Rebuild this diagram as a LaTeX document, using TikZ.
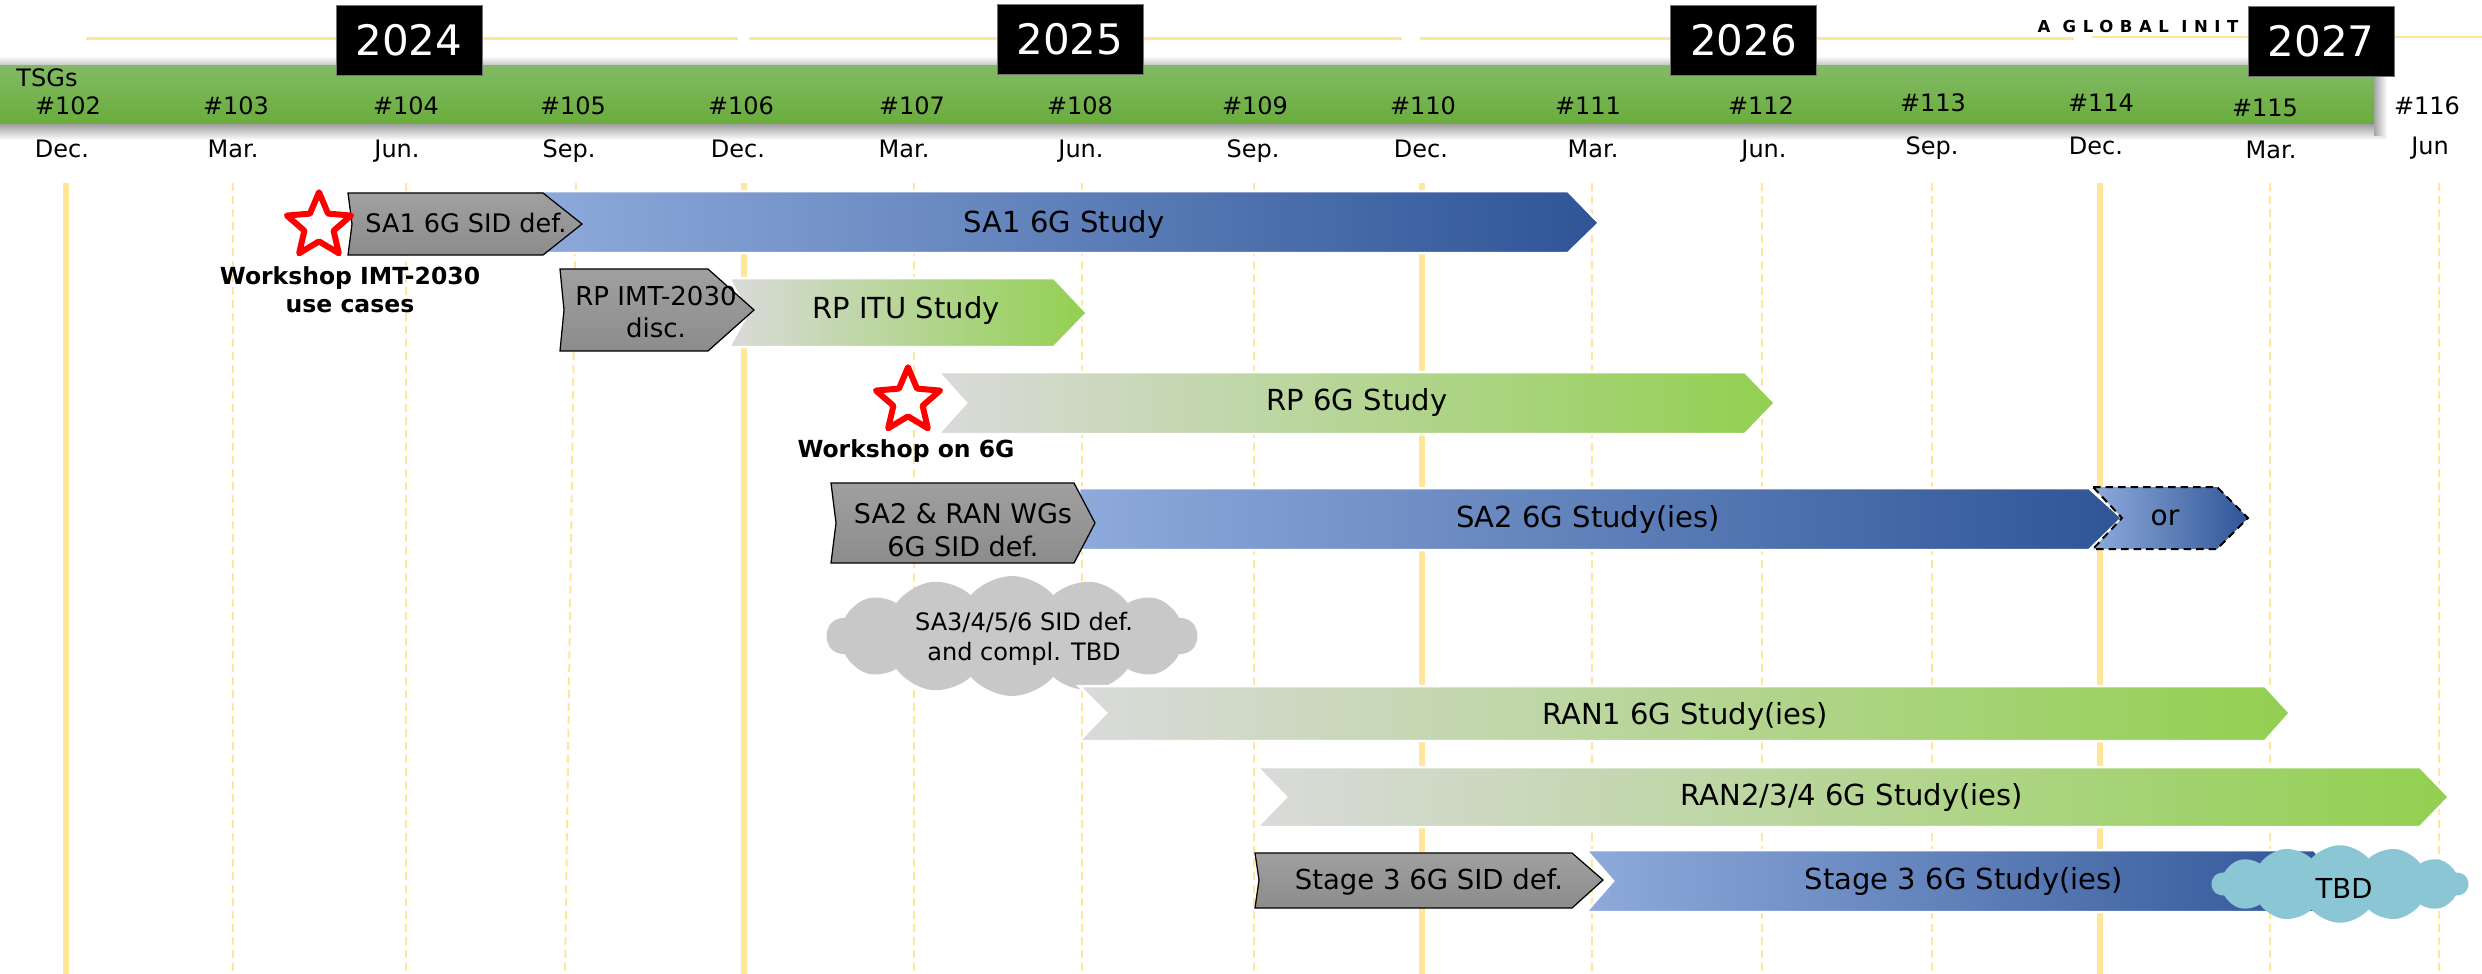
\documentclass[tikz,border=0pt]{standalone}
\usepackage{fontspec}
\setmainfont{DejaVu Sans}
\usetikzlibrary{shapes.geometric,shapes.symbols}
\definecolor{ylw}{HTML}{FFE699}
\definecolor{blueL}{HTML}{8EAADB}
\definecolor{blueD}{HTML}{2F5597}
\definecolor{grnL}{HTML}{DADADA}
\definecolor{grnD}{HTML}{92D050}
\definecolor{hdrT}{HTML}{82BA64}
\definecolor{hdrB}{HTML}{6AAD3D}
\definecolor{cloudG}{HTML}{C8C8C8}
\definecolor{cloudB}{HTML}{8BC6D5}
\definecolor{grayT}{HTML}{A0A0A0}
\definecolor{grayB}{HTML}{8C8C8C}
\begin{document}
\begin{tikzpicture}[x=0.4pt, y=-0.4pt,
  hdr/.style={font=\fontsize{9.6}{11}\selectfont, anchor=base, inner sep=0},
  yearbox/.style={fill=black, draw=black!55, line width=0.3pt, text=white, font=\fontsize{16.8}{20}\selectfont, minimum width=58.4pt, minimum height=28pt, inner sep=0},
  vsolid/.style={draw=ylw, line width=2.4pt},
  vdash/.style={draw=ylw, line width=0.8pt, dash pattern=on 3.2pt off 2pt},
  bluebar/.style={left color=blueL, right color=blueD, draw=white, line width=1pt},
  greenbar/.style={left color=grnL, right color=grnD, draw=white, line width=1pt},
  graybox/.style={top color=grayT, bottom color=grayB, draw=black, line width=0.5pt},
  barlbl/.style={font=\fontsize{11.6}{14}\selectfont, anchor=base, inner sep=0},
  boxlbl/.style={align=center, anchor=north, inner sep=0},
  wsstar/.style={star, star points=5, star point ratio=2.2, minimum size=27pt, inner sep=0, draw=red, fill=white, line width=2.4pt, line join=round},
  wslbl/.style={font=\bfseries\fontsize{9.4}{11.2}\selectfont, align=center, anchor=north, inner sep=0},
  cloudnode/.style={cloud, cloud puffs=14, cloud puff arc=100, cloud ignores aspect, inner sep=0}
]
\useasboundingbox (0,0) rectangle (2482,974);

% top thin lines
\draw[ylw, line width=1pt] (86,38.5) -- (738,38.5);
\draw[ylw, line width=1pt] (749,38.5) -- (1402,38.5);
\draw[ylw, line width=1pt] (1420,38.5) -- (2074,38.5);
\draw[ylw, line width=1pt] (2092,37) -- (2482,37);
\node[font=\bfseries\fontsize{6.6}{7}\selectfont\addfontfeatures{LetterSpace=40}, anchor=base west, inner sep=0] (logo) at (2037,32) {A GLOBAL INIT};

% header bar with shadow
\shade[top color=white, bottom color=black!22] (0,56) rectangle (2380,65);
\shade[top color=black!40, bottom color=white] (0,123) rectangle (2386,140);
\shade[left color=black!35, right color=white] (2374,60) rectangle (2387,135);
\shade[top color=hdrT, bottom color=hdrB] (0,65) rectangle (2374,123);

% years
\node[yearbox] (y2024) at (409,40) {2024};
\node[yearbox] (y2025) at (1070,39) {2025};
\node[yearbox] (y2026) at (1743.5,40) {2026};
\node[yearbox] (y2027) at (2321,41) {2027};

\node[hdr, anchor=base west] (tsgs) at (16,86) {TSGs};
\foreach \x/\y/\n [count=\i] in {68/114/102, 236/114/103, 406/114/104, 573/114/105, 741/114/106, 912/114/107, 1080/114/108, 1255/114/109, 1423/114/110, 1588/114/111, 1761/114/112, 1933/111/113, 2101/111/114, 2265/116/115, 2427/114/116}
  {\node[hdr] (tsg\i) at (\x,\y) {\#\n};}
\foreach \x/\y/\m [count=\i] in {62/157/Dec., 233/157/Mar., 397/157/Jun., 569/157/Sep., 738/157/Dec., 904/157/Mar., 1081/157/Jun., 1253/157/Sep., 1421/157/Dec., 1593/157/Mar., 1764/157/Jun., 1932/154/Sep., 2096/154/Dec., 2271/158/Mar., 2430/154/Jun}
  {\node[hdr] (mon\i) at (\x,\y) {\m};}

% vertical grid lines
\foreach \x in {66,744,1422,2100} {\draw[vsolid] (\x,183) -- (\x,974);}
\foreach \x in {233,406,914,1082,1254,1592,1762,1932,2270,2439} {\draw[vdash] (\x,183) -- (\x,974);}
\draw[vdash] (576,183) -- (565,974);

% SA1
\path[bluebar] (534,191) -- (1568,191) -- (1599,223) -- (1568,253) -- (534,253) -- cycle;
\node[barlbl] (sa1study) at (1064,232) {SA1 6G Study};
\path[graybox] (348,193) -- (543,193) -- (582,224) -- (543,255) -- (348,255) -- (352,224) -- cycle;
\node[barlbl, font=\fontsize{10.2}{12}\selectfont] (sa1sid) at (466,232) {SA1 6G SID def.};

% RP ITU
\path[greenbar] (729,278) -- (1054,278) -- (1087,313) -- (1054,347) -- (729,347) -- (748,313) -- cycle;
\node[barlbl] (rpitu) at (906,318) {RP ITU Study};
\path[graybox] (560,269) -- (708,269) -- (754,310) -- (708,351) -- (560,351) -- (564,310) -- cycle;
\node[boxlbl, font=\fontsize{10.4}{12.8}\selectfont] (rpimt) at (656,286) {RP IMT-2030\\disc.};

% RP 6G
\path[greenbar] (938,372) -- (1745,372) -- (1775,403) -- (1745,434) -- (938,434) -- (966,403) -- cycle;
\node[barlbl] (rp6g) at (1357,410) {RP 6G Study};

% SA2
\path[bluebar] (1079,488) -- (2089,488) -- (2122,518) -- (2089,550) -- (1079,550) -- cycle;
\node[barlbl] (sa2study) at (1588,527) {SA2 6G Study(ies)};
\path[left color=blueL, right color=blueD, draw=black, line width=0.8pt, dash pattern=on 3pt off 2pt]
  (2093,487) -- (2217,487) -- (2248,518) -- (2217,549) -- (2093,549) -- (2122,518) -- cycle;
\node[barlbl, font=\fontsize{11.2}{13}\selectfont] (or) at (2165,525) {or};
\path[graybox] (831,483) -- (1074,483) -- (1095,523) -- (1074,563) -- (831,563) -- (836,523) -- cycle;
\node[boxlbl, font=\fontsize{10.8}{13.2}\selectfont] (sa2sid) at (963,503) {SA2 \& RAN WGs\\6G SID def.};

% SA3/4/5/6 cloud
\node[cloudnode, fill=cloudG, minimum width=148pt, minimum height=48pt] (c1) at (1012,636) {};
\node[align=center, inner sep=0, font=\fontsize{9.6}{12}\selectfont] (c1t) at (1024,639) {SA3/4/5/6 SID def.\\and compl. TBD};

% RAN1
\path[greenbar] (1079,686) -- (2265,686) -- (2290,713) -- (2265,741) -- (1079,741) -- (1106,713) -- cycle;
\node[barlbl] (ran1) at (1685,724) {RAN1 6G Study(ies)};

% RAN2/3/4
\path[greenbar] (1257,767) -- (2420,767) -- (2449,797) -- (2420,827) -- (1257,827) -- (1286,797) -- cycle;
\node[barlbl] (ran234) at (1852,805) {RAN2/3/4 6G Study(ies)};

% Stage 3
\path[bluebar] (1586,850) -- (2314,850) -- (2340,881) -- (2314,912) -- (1586,912) -- (1613,881) -- cycle;
\node[barlbl] (st3study) at (1964,889) {Stage 3 6G Study(ies)};
\path[graybox] (1255,853) -- (1572,853) -- (1603,880) -- (1572,908) -- (1255,908) -- (1259,880) -- cycle;
\node[barlbl, font=\fontsize{11}{13}\selectfont] (st3sid) at (1429,889) {Stage 3 6G SID def.};
\node[cloudnode, fill=cloudB, minimum width=102.4pt, minimum height=31pt] (c2) at (2340,884) {};
\node[barlbl, font=\fontsize{11}{13}\selectfont] (tbd) at (2344,898) {TBD};

% workshops
\node[wsstar] (ws1) at (319,226) {};
\node[wslbl] (ws1t) at (350,266) {Workshop IMT-2030\\use cases};
\node[wsstar] (ws2) at (908,401) {};
\node[wslbl] (ws2t) at (906,439) {Workshop on 6G};
\end{tikzpicture}
\end{document}
